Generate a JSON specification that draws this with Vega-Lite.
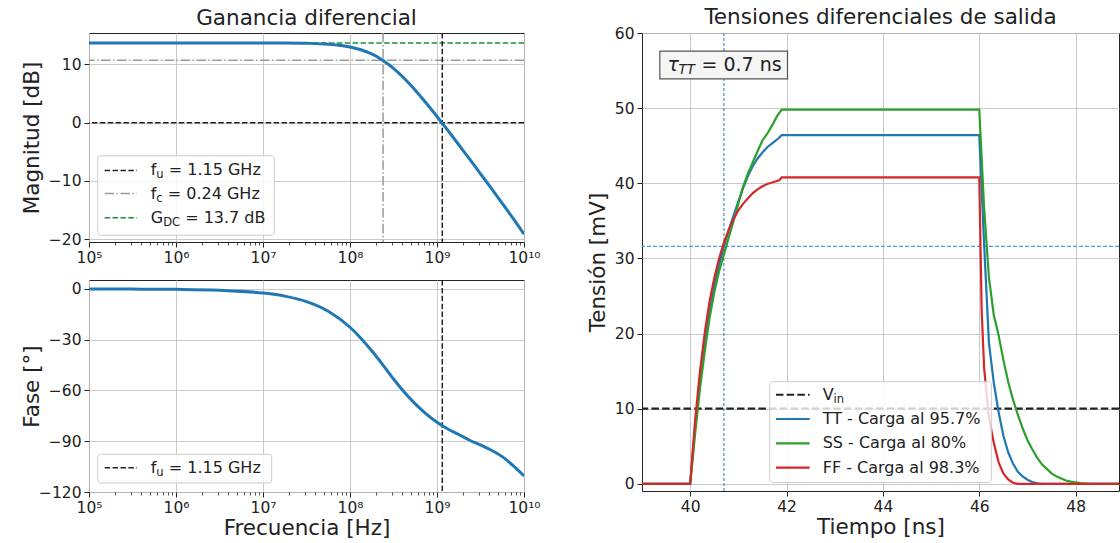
{
 "$schema": "https://vega.github.io/schema/vega-lite/v6.json",
 "background": "white",
 "padding": {"left": 20, "top": 6, "right": 0, "bottom": 0},
 "config": {
  "font": "DejaVu Sans",
  "view": {"stroke": "#222222", "strokeWidth": 1},
  "axis": {"labelFont": "DejaVu Sans", "labelFontSize": 15.5, "labelColor": "#222222", "titleFont": "DejaVu Sans", "titleFontSize": 21.5, "titleFontWeight": "normal", "titleColor": "#222222", "tickColor": "#222222", "tickSize": 5, "tickWidth": 1, "domain": false, "gridColor": "#c4c4c4", "gridWidth": 0.9, "labelPadding": 3, "labelFlush": false, "labelOverlap": false},
  "title": {"font": "DejaVu Sans", "fontSize": 21.5, "fontWeight": "normal", "color": "#222222", "offset": 3, "baseline": "alphabetic"},
  "text": {"font": "DejaVu Sans", "color": "#222222"}
 },
 "datasets": {
  "mag": [
   {"f": 100000, "db": 13.7}, {"f": 316228, "db": 13.7}, {"f": 1000000, "db": 13.7}, {"f": 3162278, "db": 13.7},
   {"f": 10000000, "db": 13.69}, {"f": 17782794, "db": 13.68}, {"f": 31622777, "db": 13.63}, {"f": 56234133, "db": 13.47},
   {"f": 100000000, "db": 13.0}, {"f": 133352143, "db": 12.53}, {"f": 177827941, "db": 11.8}, {"f": 237137371, "db": 10.74},
   {"f": 316227766, "db": 9.33}, {"f": 421696503, "db": 7.58}, {"f": 562341325, "db": 5.58}, {"f": 749894209, "db": 3.38},
   {"f": 1000000000, "db": 1.06}, {"f": 1333521432, "db": -1.34}, {"f": 1778279410, "db": -3.8}, {"f": 2371373706, "db": -6.26},
   {"f": 3162277660, "db": -8.78}, {"f": 4216965034, "db": -11.3}, {"f": 5623413252, "db": -13.86}, {"f": 7498942093, "db": -16.46},
   {"f": 10000000000, "db": -19.16}
  ],
  "fase": [
   {"f": 100000, "deg": -0.02}, {"f": 316228, "deg": -0.08}, {"f": 1000000, "deg": -0.24}, {"f": 3162278, "deg": -0.76},
   {"f": 10000000, "deg": -2.39}, {"f": 17782794, "deg": -4.24}, {"f": 31622777, "deg": -7.51}, {"f": 56234133, "deg": -13.19},
   {"f": 100000000, "deg": -22.63}, {"f": 133352143, "deg": -29.07}, {"f": 177827941, "deg": -36.55}, {"f": 237137371, "deg": -44.67},
   {"f": 316227766, "deg": -53.2}, {"f": 421696503, "deg": -61.0}, {"f": 562341325, "deg": -67.9}, {"f": 749894209, "deg": -73.8},
   {"f": 1000000000, "deg": -78.8}, {"f": 1333521432, "deg": -82.8}, {"f": 1778279410, "deg": -86.0}, {"f": 2371373706, "deg": -89.4},
   {"f": 3162277660, "deg": -92.2}, {"f": 4216965034, "deg": -95.3}, {"f": 5623413252, "deg": -99.1}, {"f": 7498942093, "deg": -104.4},
   {"f": 10000000000, "deg": -110.5}
  ],
  "tran": [
   {"t": 39.0, "v": 0, "s": "TT"}, {"t": 40.0, "v": 0, "s": "TT"}, {"t": 40.1, "v": 7.5, "s": "TT"}, {"t": 40.2, "v": 13.5, "s": "TT"},
   {"t": 40.3, "v": 18.5, "s": "TT"}, {"t": 40.4, "v": 22.8, "s": "TT"}, {"t": 40.5, "v": 26.3, "s": "TT"}, {"t": 40.6, "v": 29.2, "s": "TT"},
   {"t": 40.7, "v": 31.6, "s": "TT"}, {"t": 40.8, "v": 33.8, "s": "TT"}, {"t": 40.9, "v": 35.7, "s": "TT"}, {"t": 41.0, "v": 37.6, "s": "TT"},
   {"t": 41.1, "v": 39.4, "s": "TT"}, {"t": 41.2, "v": 41.0, "s": "TT"}, {"t": 41.3, "v": 42.3, "s": "TT"}, {"t": 41.4, "v": 43.3, "s": "TT"},
   {"t": 41.5, "v": 44.1, "s": "TT"}, {"t": 41.6, "v": 44.8, "s": "TT"}, {"t": 41.7, "v": 45.3, "s": "TT"}, {"t": 41.8, "v": 45.8, "s": "TT"},
   {"t": 41.9, "v": 46.4, "s": "TT"}, {"t": 46.0, "v": 46.4, "s": "TT"}, {"t": 46.1, "v": 32.0, "s": "TT"}, {"t": 46.2, "v": 18.8, "s": "TT"},
   {"t": 46.3, "v": 13.5, "s": "TT"}, {"t": 46.4, "v": 9.6, "s": "TT"}, {"t": 46.5, "v": 6.4, "s": "TT"}, {"t": 46.6, "v": 4.2, "s": "TT"},
   {"t": 46.7, "v": 2.7, "s": "TT"}, {"t": 46.8, "v": 1.6, "s": "TT"}, {"t": 46.9, "v": 1.0, "s": "TT"}, {"t": 47.0, "v": 0.55, "s": "TT"},
   {"t": 47.1, "v": 0.25, "s": "TT"}, {"t": 47.2, "v": 0.08, "s": "TT"}, {"t": 47.3, "v": 0, "s": "TT"}, {"t": 48.9, "v": 0, "s": "TT"},
   {"t": 39.0, "v": 0, "s": "SS"}, {"t": 40.0, "v": 0, "s": "SS"}, {"t": 40.1, "v": 6.5, "s": "SS"}, {"t": 40.2, "v": 12.5, "s": "SS"},
   {"t": 40.3, "v": 17.5, "s": "SS"}, {"t": 40.4, "v": 22.0, "s": "SS"}, {"t": 40.5, "v": 25.5, "s": "SS"}, {"t": 40.6, "v": 28.3, "s": "SS"},
   {"t": 40.7, "v": 30.5, "s": "SS"}, {"t": 40.8, "v": 32.8, "s": "SS"}, {"t": 40.9, "v": 35.0, "s": "SS"}, {"t": 41.0, "v": 37.3, "s": "SS"},
   {"t": 41.1, "v": 39.6, "s": "SS"}, {"t": 41.2, "v": 41.3, "s": "SS"}, {"t": 41.3, "v": 42.8, "s": "SS"}, {"t": 41.4, "v": 44.3, "s": "SS"},
   {"t": 41.5, "v": 45.7, "s": "SS"}, {"t": 41.6, "v": 46.6, "s": "SS"}, {"t": 41.7, "v": 47.7, "s": "SS"}, {"t": 41.8, "v": 48.9, "s": "SS"},
   {"t": 41.9, "v": 49.8, "s": "SS"}, {"t": 46.0, "v": 49.8, "s": "SS"}, {"t": 46.1, "v": 36.8, "s": "SS"}, {"t": 46.2, "v": 27.5, "s": "SS"},
   {"t": 46.3, "v": 22.5, "s": "SS"}, {"t": 46.4, "v": 19.8, "s": "SS"}, {"t": 46.5, "v": 16.5, "s": "SS"}, {"t": 46.6, "v": 13.6, "s": "SS"},
   {"t": 46.7, "v": 11.2, "s": "SS"}, {"t": 46.8, "v": 9.2, "s": "SS"}, {"t": 46.9, "v": 7.4, "s": "SS"}, {"t": 47.0, "v": 5.8, "s": "SS"},
   {"t": 47.1, "v": 4.6, "s": "SS"}, {"t": 47.2, "v": 3.5, "s": "SS"}, {"t": 47.3, "v": 2.6, "s": "SS"}, {"t": 47.4, "v": 2.0, "s": "SS"},
   {"t": 47.5, "v": 1.4, "s": "SS"}, {"t": 47.6, "v": 1.0, "s": "SS"}, {"t": 47.7, "v": 0.7, "s": "SS"}, {"t": 47.8, "v": 0.45, "s": "SS"},
   {"t": 47.9, "v": 0.3, "s": "SS"}, {"t": 48.0, "v": 0.2, "s": "SS"}, {"t": 48.1, "v": 0.1, "s": "SS"}, {"t": 48.2, "v": 0.05, "s": "SS"},
   {"t": 48.3, "v": 0, "s": "SS"}, {"t": 48.9, "v": 0, "s": "SS"},
   {"t": 39.0, "v": 0, "s": "FF"}, {"t": 40.0, "v": 0, "s": "FF"}, {"t": 40.1, "v": 8.3, "s": "FF"}, {"t": 40.2, "v": 14.8, "s": "FF"},
   {"t": 40.3, "v": 20.0, "s": "FF"}, {"t": 40.4, "v": 24.2, "s": "FF"}, {"t": 40.5, "v": 27.4, "s": "FF"}, {"t": 40.6, "v": 30.0, "s": "FF"},
   {"t": 40.7, "v": 32.1, "s": "FF"}, {"t": 40.8, "v": 33.8, "s": "FF"}, {"t": 40.9, "v": 35.2, "s": "FF"}, {"t": 41.0, "v": 36.4, "s": "FF"},
   {"t": 41.1, "v": 37.3, "s": "FF"}, {"t": 41.2, "v": 38.0, "s": "FF"}, {"t": 41.3, "v": 38.7, "s": "FF"}, {"t": 41.4, "v": 39.2, "s": "FF"},
   {"t": 41.5, "v": 39.6, "s": "FF"}, {"t": 41.6, "v": 39.9, "s": "FF"}, {"t": 41.7, "v": 40.1, "s": "FF"}, {"t": 41.8, "v": 40.3, "s": "FF"},
   {"t": 41.85, "v": 40.4, "s": "FF"}, {"t": 41.9, "v": 40.8, "s": "FF"}, {"t": 46.0, "v": 40.8, "s": "FF"}, {"t": 46.05, "v": 23.0, "s": "FF"},
   {"t": 46.1, "v": 15.5, "s": "FF"}, {"t": 46.2, "v": 8.8, "s": "FF"}, {"t": 46.3, "v": 5.5, "s": "FF"}, {"t": 46.4, "v": 2.9, "s": "FF"},
   {"t": 46.5, "v": 1.4, "s": "FF"}, {"t": 46.6, "v": 0.6, "s": "FF"}, {"t": 46.7, "v": 0.15, "s": "FF"}, {"t": 46.8, "v": 0, "s": "FF"},
   {"t": 48.9, "v": 0, "s": "FF"}
  ]
 },
 "spacing": 45,
 "hconcat": [
  {
   "spacing": 12,
   "vconcat": [
    {
     "width": 435, "height": 209,
     "title": {"text": "Ganancia diferencial"},
     "resolve": {"axis": {"x": "independent"}},
     "layer": [
      {"data": {"values": [{"f": 100000}]}, "mark": {"type": "point", "opacity": 0},
       "encoding": {"x": {"field": "f", "type": "quantitative", "scale": {"type": "log", "domain": [100000, 10000000000], "nice": false},
        "axis": {"orient": "bottom", "values": [200000,300000,400000,500000,600000,700000,800000,900000,2000000,3000000,4000000,5000000,6000000,7000000,8000000,9000000,20000000,30000000,40000000,50000000,60000000,70000000,80000000,90000000,200000000,300000000,400000000,500000000,600000000,700000000,800000000,900000000,2000000000,3000000000,4000000000,5000000000,6000000000,7000000000,8000000000,9000000000], "labels": false, "grid": false, "domain": false, "tickSize": 3, "tickWidth": 0.8, "title": null}}}},
      {"data": {"values": [{"db": 0}]}, "mark": {"type": "rule", "color": "#222222", "strokeWidth": 1.5, "strokeDash": [5.5, 2.4]},
       "encoding": {"y": {"field": "db", "type": "quantitative", "scale": {"domain": [-20.5, 15.4], "nice": false, "zero": false}}}},
      {"data": {"values": [{"db": 13.7}]}, "mark": {"type": "rule", "color": "#1a9138", "strokeWidth": 1.5, "strokeDash": [5.5, 2.4]},
       "encoding": {"y": {"field": "db", "type": "quantitative", "scale": {"domain": [-20.5, 15.4], "nice": false, "zero": false}}}},
      {"data": {"values": [{"db": 10.7}]}, "mark": {"type": "rule", "color": "#9a9a9a", "strokeWidth": 1.5, "strokeDash": [9.6, 2.4, 1.5, 2.4]},
       "encoding": {"y": {"field": "db", "type": "quantitative", "scale": {"domain": [-20.5, 15.4], "nice": false, "zero": false}}}},
      {"data": {"values": [{"f": 240000000}]}, "mark": {"type": "rule", "color": "#9a9a9a", "strokeWidth": 1.5, "strokeDash": [9.6, 2.4, 1.5, 2.4]},
       "encoding": {"x": {"field": "f", "type": "quantitative", "scale": {"type": "log", "domain": [100000, 10000000000], "nice": false}, "axis": null}}},
      {"data": {"values": [{"f": 1150000000}]}, "mark": {"type": "rule", "color": "#222222", "strokeWidth": 1.5, "strokeDash": [5.5, 2.4]},
       "encoding": {"x": {"field": "f", "type": "quantitative", "scale": {"type": "log", "domain": [100000, 10000000000], "nice": false}, "axis": null}}},
      {"data": {"name": "mag"}, "mark": {"type": "line", "color": "#1f77b4", "strokeWidth": 3, "interpolate": "monotone", "clip": true},
       "encoding": {
        "x": {"field": "f", "type": "quantitative", "scale": {"type": "log", "domain": [100000, 10000000000], "nice": false},
         "axis": {"orient": "bottom", "values": [100000, 1000000, 10000000, 100000000, 1000000000, 10000000000], "labelExpr": "['10⁵','10⁶','10⁷','10⁸','10⁹','10¹⁰'][round(log(datum.value)/LN10)-5]", "title": null, "grid": true}},
        "y": {"field": "db", "type": "quantitative", "scale": {"domain": [-20.5, 15.4], "nice": false, "zero": false},
         "axis": {"values": [10, 0, -10, -20], "title": "Magnitud [dB]", "titleX": -57, "titleY": 104.5, "titleBaseline": "middle", "grid": true}}}},
      {"data": {"values": [{}]}, "mark": {"type": "rect", "fill": "#ffffff", "fillOpacity": 0.8, "stroke": "#cccccc", "strokeWidth": 1, "cornerRadius": 3},
       "encoding": {"x": {"datum": 125893, "type": "quantitative", "scale": {"type": "log", "domain": [100000, 10000000000], "nice": false}, "axis": null}, "x2": {"datum": 13489629},
        "y": {"datum": -5.69, "type": "quantitative", "scale": {"domain": [-20.5, 15.4], "nice": false, "zero": false}}, "y2": {"datum": -19.35}}},
      {"data": {"values": [{}]}, "mark": {"type": "rule", "color": "#222222", "strokeWidth": 1.5, "strokeDash": [5.5, 2.4]},
       "encoding": {"x": {"datum": 151356, "type": "quantitative", "scale": {"type": "log", "domain": [100000, 10000000000], "nice": false}, "axis": null}, "x2": {"datum": 354813},
        "y": {"datum": -8.2, "type": "quantitative", "scale": {"domain": [-20.5, 15.4], "nice": false, "zero": false}}}},
      {"data": {"values": [{}]}, "mark": {"type": "rule", "color": "#9a9a9a", "strokeWidth": 1.5, "strokeDash": [9.6, 2.4, 1.5, 2.4]},
       "encoding": {"x": {"datum": 151356, "type": "quantitative", "scale": {"type": "log", "domain": [100000, 10000000000], "nice": false}, "axis": null}, "x2": {"datum": 354813},
        "y": {"datum": -12.18, "type": "quantitative", "scale": {"domain": [-20.5, 15.4], "nice": false, "zero": false}}}},
      {"data": {"values": [{}]}, "mark": {"type": "rule", "color": "#1a9138", "strokeWidth": 1.5, "strokeDash": [5.5, 2.4]},
       "encoding": {"x": {"datum": 151356, "type": "quantitative", "scale": {"type": "log", "domain": [100000, 10000000000], "nice": false}, "axis": null}, "x2": {"datum": 354813},
        "y": {"datum": -16.33, "type": "quantitative", "scale": {"domain": [-20.5, 15.4], "nice": false, "zero": false}}}},
      {"data": {"values": [{"txt": "f"}]}, "mark": {"type": "text", "align": "left", "baseline": "middle", "fontSize": 16, "color": "#222222"},
       "encoding": {"x": {"datum": 512861, "type": "quantitative", "scale": {"type": "log", "domain": [100000, 10000000000], "nice": false}, "axis": null},
        "y": {"datum": -8.2, "type": "quantitative", "scale": {"domain": [-20.5, 15.4], "nice": false, "zero": false}}, "text": {"field": "txt"}}},
      {"data": {"values": [{"txt": "u"}]}, "mark": {"type": "text", "align": "left", "baseline": "middle", "fontSize": 11.5, "dx": 5.6, "dy": 5, "color": "#222222"},
       "encoding": {"x": {"datum": 512861, "type": "quantitative", "scale": {"type": "log", "domain": [100000, 10000000000], "nice": false}, "axis": null},
        "y": {"datum": -8.2, "type": "quantitative", "scale": {"domain": [-20.5, 15.4], "nice": false, "zero": false}}, "text": {"field": "txt"}}},
      {"data": {"values": [{"txt": "= 1.15 GHz"}]}, "mark": {"type": "text", "align": "left", "baseline": "middle", "fontSize": 16, "dx": 18, "color": "#222222"},
       "encoding": {"x": {"datum": 512861, "type": "quantitative", "scale": {"type": "log", "domain": [100000, 10000000000], "nice": false}, "axis": null},
        "y": {"datum": -8.2, "type": "quantitative", "scale": {"domain": [-20.5, 15.4], "nice": false, "zero": false}}, "text": {"field": "txt"}}},
      {"data": {"values": [{"txt": "f"}]}, "mark": {"type": "text", "align": "left", "baseline": "middle", "fontSize": 16, "color": "#222222"},
       "encoding": {"x": {"datum": 512861, "type": "quantitative", "scale": {"type": "log", "domain": [100000, 10000000000], "nice": false}, "axis": null},
        "y": {"datum": -12.18, "type": "quantitative", "scale": {"domain": [-20.5, 15.4], "nice": false, "zero": false}}, "text": {"field": "txt"}}},
      {"data": {"values": [{"txt": "c"}]}, "mark": {"type": "text", "align": "left", "baseline": "middle", "fontSize": 11.5, "dx": 5.6, "dy": 5, "color": "#222222"},
       "encoding": {"x": {"datum": 512861, "type": "quantitative", "scale": {"type": "log", "domain": [100000, 10000000000], "nice": false}, "axis": null},
        "y": {"datum": -12.18, "type": "quantitative", "scale": {"domain": [-20.5, 15.4], "nice": false, "zero": false}}, "text": {"field": "txt"}}},
      {"data": {"values": [{"txt": "= 0.24 GHz"}]}, "mark": {"type": "text", "align": "left", "baseline": "middle", "fontSize": 16, "dx": 17, "color": "#222222"},
       "encoding": {"x": {"datum": 512861, "type": "quantitative", "scale": {"type": "log", "domain": [100000, 10000000000], "nice": false}, "axis": null},
        "y": {"datum": -12.18, "type": "quantitative", "scale": {"domain": [-20.5, 15.4], "nice": false, "zero": false}}, "text": {"field": "txt"}}},
      {"data": {"values": [{"txt": "G"}]}, "mark": {"type": "text", "align": "left", "baseline": "middle", "fontSize": 16, "color": "#222222"},
       "encoding": {"x": {"datum": 512861, "type": "quantitative", "scale": {"type": "log", "domain": [100000, 10000000000], "nice": false}, "axis": null},
        "y": {"datum": -16.33, "type": "quantitative", "scale": {"domain": [-20.5, 15.4], "nice": false, "zero": false}}, "text": {"field": "txt"}}},
      {"data": {"values": [{"txt": "DC"}]}, "mark": {"type": "text", "align": "left", "baseline": "middle", "fontSize": 11.5, "dx": 12.4, "dy": 5, "color": "#222222"},
       "encoding": {"x": {"datum": 512861, "type": "quantitative", "scale": {"type": "log", "domain": [100000, 10000000000], "nice": false}, "axis": null},
        "y": {"datum": -16.33, "type": "quantitative", "scale": {"domain": [-20.5, 15.4], "nice": false, "zero": false}}, "text": {"field": "txt"}}},
      {"data": {"values": [{"txt": "= 13.7 dB"}]}, "mark": {"type": "text", "align": "left", "baseline": "middle", "fontSize": 16, "dx": 34.4, "color": "#222222"},
       "encoding": {"x": {"datum": 512861, "type": "quantitative", "scale": {"type": "log", "domain": [100000, 10000000000], "nice": false}, "axis": null},
        "y": {"datum": -16.33, "type": "quantitative", "scale": {"domain": [-20.5, 15.4], "nice": false, "zero": false}}, "text": {"field": "txt"}}}
     ]
    },
    {
     "width": 435, "height": 212,
     "resolve": {"axis": {"x": "independent"}},
     "layer": [
      {"data": {"values": [{"f": 100000}]}, "mark": {"type": "point", "opacity": 0},
       "encoding": {"x": {"field": "f", "type": "quantitative", "scale": {"type": "log", "domain": [100000, 10000000000], "nice": false},
        "axis": {"orient": "bottom", "values": [200000,300000,400000,500000,600000,700000,800000,900000,2000000,3000000,4000000,5000000,6000000,7000000,8000000,9000000,20000000,30000000,40000000,50000000,60000000,70000000,80000000,90000000,200000000,300000000,400000000,500000000,600000000,700000000,800000000,900000000,2000000000,3000000000,4000000000,5000000000,6000000000,7000000000,8000000000,9000000000], "labels": false, "grid": false, "domain": false, "tickSize": 3, "tickWidth": 0.8, "title": null}}}},
      {"data": {"values": [{"f": 1150000000}]}, "mark": {"type": "rule", "color": "#222222", "strokeWidth": 1.5, "strokeDash": [5.5, 2.4]},
       "encoding": {"x": {"field": "f", "type": "quantitative", "scale": {"type": "log", "domain": [100000, 10000000000], "nice": false}, "axis": null}}},
      {"data": {"name": "fase"}, "mark": {"type": "line", "color": "#1f77b4", "strokeWidth": 3, "interpolate": "monotone", "clip": true},
       "encoding": {
        "x": {"field": "f", "type": "quantitative", "scale": {"type": "log", "domain": [100000, 10000000000], "nice": false},
         "axis": {"orient": "bottom", "values": [100000, 1000000, 10000000, 100000000, 1000000000, 10000000000], "labelExpr": "['10⁵','10⁶','10⁷','10⁸','10⁹','10¹⁰'][round(log(datum.value)/LN10)-5]", "title": "Frecuencia [Hz]", "titleY": 36, "titleBaseline": "middle", "grid": true}},
        "y": {"field": "deg", "type": "quantitative", "scale": {"domain": [-120, 5.3], "nice": false, "zero": false},
         "axis": {"values": [0, -30, -60, -90, -120], "title": "Fase [°]", "titleX": -57, "titleY": 106, "titleBaseline": "middle", "grid": true}}}},
      {"data": {"values": [{}]}, "mark": {"type": "rect", "fill": "#ffffff", "fillOpacity": 0.8, "stroke": "#cccccc", "strokeWidth": 1, "cornerRadius": 3},
       "encoding": {"x": {"datum": 125893, "type": "quantitative", "scale": {"type": "log", "domain": [100000, 10000000000], "nice": false}, "axis": null}, "x2": {"datum": 12589254},
        "y": {"datum": -97.7, "type": "quantitative", "scale": {"domain": [-120, 5.3], "nice": false, "zero": false}}, "y2": {"datum": -114.7}}},
      {"data": {"values": [{}]}, "mark": {"type": "rule", "color": "#222222", "strokeWidth": 1.5, "strokeDash": [5.5, 2.4]},
       "encoding": {"x": {"datum": 151356, "type": "quantitative", "scale": {"type": "log", "domain": [100000, 10000000000], "nice": false}, "axis": null}, "x2": {"datum": 354813},
        "y": {"datum": -105.6, "type": "quantitative", "scale": {"domain": [-120, 5.3], "nice": false, "zero": false}}}},
      {"data": {"values": [{"txt": "f"}]}, "mark": {"type": "text", "align": "left", "baseline": "middle", "fontSize": 16, "color": "#222222"},
       "encoding": {"x": {"datum": 512861, "type": "quantitative", "scale": {"type": "log", "domain": [100000, 10000000000], "nice": false}, "axis": null},
        "y": {"datum": -105.6, "type": "quantitative", "scale": {"domain": [-120, 5.3], "nice": false, "zero": false}}, "text": {"field": "txt"}}},
      {"data": {"values": [{"txt": "u"}]}, "mark": {"type": "text", "align": "left", "baseline": "middle", "fontSize": 11.5, "dx": 5.6, "dy": 5, "color": "#222222"},
       "encoding": {"x": {"datum": 512861, "type": "quantitative", "scale": {"type": "log", "domain": [100000, 10000000000], "nice": false}, "axis": null},
        "y": {"datum": -105.6, "type": "quantitative", "scale": {"domain": [-120, 5.3], "nice": false, "zero": false}}, "text": {"field": "txt"}}},
      {"data": {"values": [{"txt": "= 1.15 GHz"}]}, "mark": {"type": "text", "align": "left", "baseline": "middle", "fontSize": 16, "dx": 18, "color": "#222222"},
       "encoding": {"x": {"datum": 512861, "type": "quantitative", "scale": {"type": "log", "domain": [100000, 10000000000], "nice": false}, "axis": null},
        "y": {"datum": -105.6, "type": "quantitative", "scale": {"domain": [-120, 5.3], "nice": false, "zero": false}}, "text": {"field": "txt"}}}
     ]
    }
   ]
  },
  {
   "vconcat": [
    {
     "width": 477, "height": 458,
     "title": {"text": "Tensiones diferenciales de salida", "offset": -2},
     "layer": [
      {"data": {"values": [{"v": 10}]}, "mark": {"type": "rule", "color": "#222222", "strokeWidth": 2.2, "strokeDash": [7.5, 3.2]},
       "encoding": {"y": {"field": "v", "type": "quantitative", "scale": {"domain": [-0.95, 60], "nice": false, "zero": false}}}},
      {"data": {"values": [{"t": 40.7}]}, "mark": {"type": "rule", "color": "#1f77b4", "strokeWidth": 1, "strokeDash": [3, 2]},
       "encoding": {"x": {"field": "t", "type": "quantitative", "scale": {"domain": [39, 48.9], "nice": false, "zero": false}}}},
      {"data": {"values": [{"v": 31.6}]}, "mark": {"type": "rule", "color": "#4a9fe0", "strokeWidth": 1.2, "strokeDash": [4, 2]},
       "encoding": {"y": {"field": "v", "type": "quantitative", "scale": {"domain": [-0.95, 60], "nice": false, "zero": false}}}},
      {"data": {"name": "tran"}, "mark": {"type": "line", "strokeWidth": 2.2, "clip": true},
       "encoding": {
        "x": {"field": "t", "type": "quantitative", "scale": {"domain": [39, 48.9], "nice": false, "zero": false},
         "axis": {"values": [40, 42, 44, 46, 48], "title": "Tiempo [ns]", "titleY": 36, "titleBaseline": "middle", "grid": true}},
        "y": {"field": "v", "type": "quantitative", "scale": {"domain": [-0.95, 60], "nice": false, "zero": false},
         "axis": {"values": [0, 10, 20, 30, 40, 50, 60], "title": "Tensión [mV]", "titleX": -44, "titleY": 229, "titleBaseline": "middle", "grid": true}},
        "color": {"field": "s", "type": "nominal", "scale": {"domain": ["TT", "SS", "FF"], "range": ["#1f77b4", "#2ca02c", "#d62728"]}, "legend": null}}},
      {"data": {"values": [{}]}, "mark": {"type": "rect", "fill": "#ffffff", "fillOpacity": 0.8, "stroke": "#cccccc", "strokeWidth": 1, "cornerRadius": 3},
       "encoding": {"x": {"datum": 41.65, "type": "quantitative", "scale": {"domain": [39, 48.9], "nice": false, "zero": false}}, "x2": {"datum": 46.25},
        "y": {"datum": 13.6, "type": "quantitative", "scale": {"domain": [-0.95, 60], "nice": false, "zero": false}}, "y2": {"datum": 0.18}}},
      {"data": {"values": [{}]}, "mark": {"type": "rule", "color": "#222222", "strokeWidth": 2.2, "strokeDash": [7.5, 3.2]},
       "encoding": {"x": {"datum": 41.78, "type": "quantitative", "scale": {"domain": [39, 48.9], "nice": false, "zero": false}}, "x2": {"datum": 42.48},
        "y": {"datum": 11.86, "type": "quantitative", "scale": {"domain": [-0.95, 60], "nice": false, "zero": false}}}},
      {"data": {"values": [{}]}, "mark": {"type": "rule", "color": "#1f77b4", "strokeWidth": 2.2},
       "encoding": {"x": {"datum": 41.78, "type": "quantitative", "scale": {"domain": [39, 48.9], "nice": false, "zero": false}}, "x2": {"datum": 42.48},
        "y": {"datum": 8.63, "type": "quantitative", "scale": {"domain": [-0.95, 60], "nice": false, "zero": false}}}},
      {"data": {"values": [{}]}, "mark": {"type": "rule", "color": "#2ca02c", "strokeWidth": 2.2},
       "encoding": {"x": {"datum": 41.78, "type": "quantitative", "scale": {"domain": [39, 48.9], "nice": false, "zero": false}}, "x2": {"datum": 42.48},
        "y": {"datum": 5.4, "type": "quantitative", "scale": {"domain": [-0.95, 60], "nice": false, "zero": false}}}},
      {"data": {"values": [{}]}, "mark": {"type": "rule", "color": "#d62728", "strokeWidth": 2.2},
       "encoding": {"x": {"datum": 41.78, "type": "quantitative", "scale": {"domain": [39, 48.9], "nice": false, "zero": false}}, "x2": {"datum": 42.48},
        "y": {"datum": 2.17, "type": "quantitative", "scale": {"domain": [-0.95, 60], "nice": false, "zero": false}}}},
      {"data": {"values": [{"txt": "V"}]}, "mark": {"type": "text", "align": "left", "baseline": "middle", "fontSize": 16, "color": "#222222"},
       "encoding": {"x": {"datum": 42.75, "type": "quantitative", "scale": {"domain": [39, 48.9], "nice": false, "zero": false}},
        "y": {"datum": 11.86, "type": "quantitative", "scale": {"domain": [-0.95, 60], "nice": false, "zero": false}}, "text": {"field": "txt"}}},
      {"data": {"values": [{"txt": "in"}]}, "mark": {"type": "text", "align": "left", "baseline": "middle", "fontSize": 11.5, "dx": 10.9, "dy": 5, "color": "#222222"},
       "encoding": {"x": {"datum": 42.75, "type": "quantitative", "scale": {"domain": [39, 48.9], "nice": false, "zero": false}},
        "y": {"datum": 11.86, "type": "quantitative", "scale": {"domain": [-0.95, 60], "nice": false, "zero": false}}, "text": {"field": "txt"}}},
      {"data": {"values": [{"txt": "TT - Carga al 95.7%"}]}, "mark": {"type": "text", "align": "left", "baseline": "middle", "fontSize": 16, "color": "#222222"},
       "encoding": {"x": {"datum": 42.75, "type": "quantitative", "scale": {"domain": [39, 48.9], "nice": false, "zero": false}},
        "y": {"datum": 8.63, "type": "quantitative", "scale": {"domain": [-0.95, 60], "nice": false, "zero": false}}, "text": {"field": "txt"}}},
      {"data": {"values": [{"txt": "SS - Carga al 80%"}]}, "mark": {"type": "text", "align": "left", "baseline": "middle", "fontSize": 16, "color": "#222222"},
       "encoding": {"x": {"datum": 42.75, "type": "quantitative", "scale": {"domain": [39, 48.9], "nice": false, "zero": false}},
        "y": {"datum": 5.4, "type": "quantitative", "scale": {"domain": [-0.95, 60], "nice": false, "zero": false}}, "text": {"field": "txt"}}},
      {"data": {"values": [{"txt": "FF - Carga al 98.3%"}]}, "mark": {"type": "text", "align": "left", "baseline": "middle", "fontSize": 16, "color": "#222222"},
       "encoding": {"x": {"datum": 42.75, "type": "quantitative", "scale": {"domain": [39, 48.9], "nice": false, "zero": false}},
        "y": {"datum": 2.17, "type": "quantitative", "scale": {"domain": [-0.95, 60], "nice": false, "zero": false}}, "text": {"field": "txt"}}},
      {"data": {"values": [{}]}, "mark": {"type": "rect", "fill": "#f5f5f5", "stroke": "#555555", "strokeWidth": 1.2},
       "encoding": {"x": {"datum": 39.37, "type": "quantitative", "scale": {"domain": [39, 48.9], "nice": false, "zero": false}}, "x2": {"datum": 42.02},
        "y": {"datum": 57.6, "type": "quantitative", "scale": {"domain": [-0.95, 60], "nice": false, "zero": false}}, "y2": {"datum": 53.9}}},
      {"data": {"values": [{"txt": "τ"}]}, "mark": {"type": "text", "align": "left", "baseline": "middle", "fontSize": 19, "fontStyle": "italic", "color": "#222222"},
       "encoding": {"x": {"datum": 39.53, "type": "quantitative", "scale": {"domain": [39, 48.9], "nice": false, "zero": false}},
        "y": {"datum": 55.7, "type": "quantitative", "scale": {"domain": [-0.95, 60], "nice": false, "zero": false}}, "text": {"field": "txt"}}},
      {"data": {"values": [{"txt": "TT"}]}, "mark": {"type": "text", "align": "left", "baseline": "middle", "fontSize": 13.3, "fontStyle": "italic", "dx": 11, "dy": 5, "color": "#222222"},
       "encoding": {"x": {"datum": 39.53, "type": "quantitative", "scale": {"domain": [39, 48.9], "nice": false, "zero": false}},
        "y": {"datum": 55.7, "type": "quantitative", "scale": {"domain": [-0.95, 60], "nice": false, "zero": false}}, "text": {"field": "txt"}}},
      {"data": {"values": [{"txt": "= 0.7 ns"}]}, "mark": {"type": "text", "align": "left", "baseline": "middle", "fontSize": 19, "dx": 34, "color": "#222222"},
       "encoding": {"x": {"datum": 39.53, "type": "quantitative", "scale": {"domain": [39, 48.9], "nice": false, "zero": false}},
        "y": {"datum": 55.7, "type": "quantitative", "scale": {"domain": [-0.95, 60], "nice": false, "zero": false}}, "text": {"field": "txt"}}}
     ]
    }
   ]
  }
 ]
}
